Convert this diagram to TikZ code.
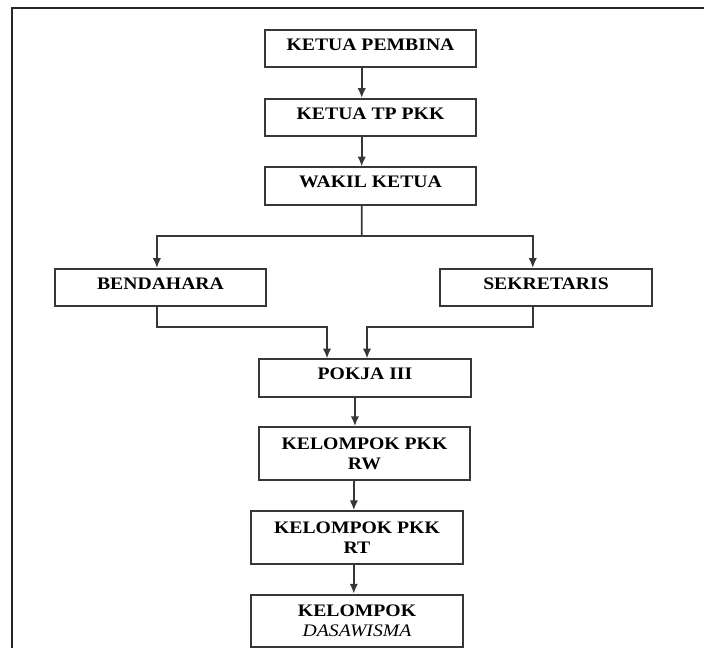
\documentclass[tikz,border=0pt]{standalone}
\usepackage{fontspec}
\setmainfont{Liberation Serif}
\newfontfamily\boxfont[FakeStretch=1.12]{Liberation Serif}
\usepackage{xcolor}
\definecolor{LineCol}{RGB}{55,55,55}
\usepackage{tikz}
\usetikzlibrary{arrows.meta}
\tikzstyle{Box}=[rectangle,draw=LineCol,line width=1.3pt,minimum width=5.28cm,
inner sep=1pt,align=center,font=\boxfont\fontsize{12.5}{14}\selectfont\bfseries]
\tikzstyle{OneLine}=[Box,minimum height=0.93cm,text height=10pt,text depth=7.5pt]
\tikzstyle{TwoLine}=[Box,minimum height=1.32cm]
\tikzstyle{Edge}=[draw=LineCol,line width=1.3pt]
\tikzstyle{Arrow}=[Edge,-{Latex[length=7pt,width=6pt]}]
\tikzstyle{Frame}=[draw=black!85,line width=1.6pt]

\begin{document}
\begin{tikzpicture}[x=0.025cm,y=-0.025cm]
        \useasboundingbox (0,0) rectangle (704,648);
        \draw[Frame](12,648)--(12,8)--(704,8);
        \node[OneLine](pembina)at(370.5,48.5){KETUA PEMBINA};
        \node[OneLine](tppkk)at(370.5,117.5){KETUA TP PKK};
        \node[OneLine](wakil)at(370.5,186){WAKIL KETUA};
        \node[OneLine](bendahara)at(160.5,287.5){BENDAHARA};
        \node[OneLine](sekretaris)at(546,287.5){SEKRETARIS};
        \node[OneLine](pokja)at(365,378){POKJA III};
        \node[TwoLine](rw)at(364.5,453.5){KELOMPOK PKK\\RW};
        \node[TwoLine](rt)at(357,537.5){KELOMPOK PKK\\RT};
        \node[TwoLine](dasa)at(357,621)
            {KELOMPOK\\{\mdseries\itshape DASAWISMA}};
        \coordinate(branch)at(361.7,236);
        \coordinate(mergeL)at(327,327);
        \coordinate(mergeR)at(367,327);
        \draw[Arrow]([xshift=-0.22cm]pembina.south)--([xshift=-0.22cm]tppkk.north);
        \draw[Arrow]([xshift=-0.22cm]tppkk.south)--([xshift=-0.22cm]wakil.north);
        \draw[Edge]([xshift=-0.22cm]wakil.south)--(branch);
        \draw[Arrow](branch)-|([xshift=-0.09cm]bendahara.north);
        \draw[Arrow](branch)-|([xshift=-0.33cm]sekretaris.north);
        \draw[Arrow]([xshift=-0.09cm]bendahara.south)|-(mergeL)--(pokja.north-|mergeL);
        \draw[Arrow]([xshift=-0.33cm]sekretaris.south)|-(mergeR)--(pokja.north-|mergeR);
        \draw[Arrow]([xshift=-0.25cm]pokja.south)--([xshift=-0.24cm]rw.north);
        \draw[Arrow]([xshift=-0.26cm]rw.south)--([xshift=-0.08cm]rt.north);
        \draw[Arrow]([xshift=-0.08cm]rt.south)--([xshift=-0.08cm]dasa.north);
    \end{tikzpicture}
\end{document}
